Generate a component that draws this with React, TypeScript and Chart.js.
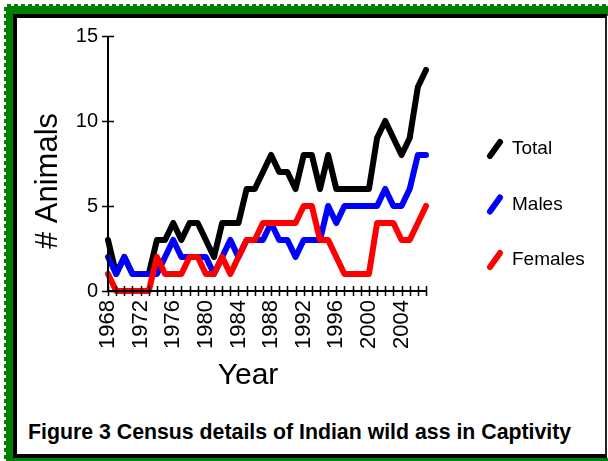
import React, { useEffect, useRef } from "react";
import { Chart, registerables } from "chart.js";

Chart.register(...registerables);

const YEARS = [
  1968, 1969, 1970, 1971, 1972, 1973, 1974, 1975, 1976, 1977,
  1978, 1979, 1980, 1981, 1982, 1983, 1984, 1985, 1986, 1987,
  1988, 1989, 1990, 1991, 1992, 1993, 1994, 1995, 1996, 1997,
  1998, 1999, 2000, 2001, 2002, 2003, 2004, 2005, 2006, 2007,
];
const TOTAL = [
  3, 1, 2, 1, 1, 1, 3, 3, 4, 3,
  4, 4, 3, 2, 4, 4, 4, 6, 6, 7,
  8, 7, 7, 6, 8, 8, 6, 8, 6, 6,
  6, 6, 6, 9, 10, 9, 8, 9, 12, 13,
];
const MALES = [
  2, 1, 2, 1, 1, 1, 1, 2, 3, 2,
  2, 2, 2, 1, 2, 3, 2, 3, 3, 3,
  4, 3, 3, 2, 3, 3, 3, 5, 4, 5,
  5, 5, 5, 5, 6, 5, 5, 6, 8, 8,
];
const FEMALES = [
  1, 0, 0, 0, 0, 0, 2, 1, 1, 1,
  2, 2, 1, 1, 2, 1, 2, 3, 3, 4,
  4, 4, 4, 4, 5, 5, 3, 3, 2, 1,
  1, 1, 1, 4, 4, 4, 3, 3, 4, 5,
];
const SERIES_NAMES = ["Total", "Males", "Females"];
const SERIES_COLORS = ["#000000", "#0000ff", "#ff0000"];
const X_LABEL_YEARS = [1968, 1972, 1976, 1980, 1984, 1988, 1992, 1996, 2000, 2004];
const Y_TICKS = [0, 5, 10, 15];
const X_TITLE = "Year";
const Y_TITLE = "# Animals";
const CAPTION = "Figure 3 Census details of Indian wild ass in Captivity";

const FONT = "'Liberation Sans', Arial, sans-serif";

const customPlugin = {
  id: "customAxesLegend",
  afterDatasetsDraw(chart: any) {
    const { ctx, scales } = chart;
    const x = scales.x;
    const y = scales.y;
    const x0 = x.getPixelForValue(YEARS[0]);
    const x1 = x.getPixelForValue(YEARS[YEARS.length - 1]);
    const y0 = y.getPixelForValue(Y_TICKS[0]);
    const y1 = y.getPixelForValue(Y_TICKS[Y_TICKS.length - 1]);
    ctx.save();
    ctx.strokeStyle = "#000";
    ctx.lineWidth = 2;
    ctx.beginPath();
    ctx.moveTo(x0, y0);
    ctx.lineTo(x1, y0);
    ctx.moveTo(x0, y0);
    ctx.lineTo(x0, y1);
    ctx.stroke();
    ctx.lineWidth = 1.5;
    ctx.beginPath();
    for (const yr of YEARS) {
      const px = Math.round(x.getPixelForValue(yr)) + 0.5;
      ctx.moveTo(px, y0 - 5);
      ctx.lineTo(px, y0 + 5);
    }
    for (const v of Y_TICKS) {
      const py = Math.round(y.getPixelForValue(v)) + 0.5;
      ctx.moveTo(x0 - 6, py);
      ctx.lineTo(x0 + 6, py);
    }
    ctx.stroke();
    ctx.restore();
  },
  afterDraw(chart: any) {
    const { ctx, chartArea } = chart;
    ctx.save();
    // legend
    ctx.font = `19px ${FONT}`;
    ctx.textBaseline = "middle";
    ctx.textAlign = "left";
    SERIES_NAMES.forEach((name, i) => {
      const cy = chartArea.top + 113 + i * 55.5;
      const gx = chartArea.right + 64;
      ctx.strokeStyle = SERIES_COLORS[i];
      ctx.lineWidth = 6;
      ctx.lineCap = "round";
      ctx.beginPath();
      ctx.moveTo(gx, cy + 7);
      ctx.lineTo(gx + 10, cy - 7);
      ctx.stroke();
      ctx.fillStyle = "#000";
      ctx.fillText(name, chartArea.right + 86, cy);
    });
    // x title
    ctx.font = `30px ${FONT}`;
    ctx.textAlign = "center";
    ctx.fillText(X_TITLE, chartArea.left + 140, chartArea.bottom + 85);
    // y title
    ctx.font = `31px ${FONT}`;
    ctx.translate(31, chartArea.top + 145);
    ctx.rotate(-Math.PI / 2);
    ctx.fillText(Y_TITLE, 0, 0);
    ctx.restore();
  },
};

export default function App() {
  const ref = useRef<HTMLCanvasElement | null>(null);

  useEffect(() => {
    if (!ref.current) return;
    const makeDs = (i: number, vals: number[], order: number) => ({
      label: SERIES_NAMES[i],
      data: YEARS.map((yr, k) => ({ x: yr, y: vals[k] })),
      borderColor: SERIES_COLORS[i],
      backgroundColor: SERIES_COLORS[i],
      borderWidth: 6,
      pointRadius: 0,
      tension: 0,
      borderJoinStyle: "round" as const,
      borderCapStyle: "round" as const,
      clip: false as any,
      order,
    });
    const chart = new Chart(ref.current, {
      type: "line",
      data: {
        datasets: [makeDs(0, TOTAL, 3), makeDs(1, MALES, 2), makeDs(2, FEMALES, 1)],
      },
      options: {
        animation: false,
        responsive: false,
        layout: { padding: { left: 0, top: 18, right: 177, bottom: 0 } },
        plugins: { legend: { display: false }, tooltip: { enabled: false } },
        scales: {
          x: {
            type: "linear",
            min: YEARS[0],
            max: YEARS[YEARS.length - 1],
            grid: { display: false, drawTicks: false },
            border: { display: false },
            afterFit: (s: any) => {
              s.height = 109;
              s.paddingLeft = 0;
              s.paddingRight = 0;
            },
            ticks: {
              stepSize: 1,
              autoSkip: false,
              minRotation: 90,
              maxRotation: 90,
              padding: 9,
              color: "#000",
              font: { family: FONT, size: 22 },
              callback: (v: any) => (X_LABEL_YEARS.includes(Number(v)) ? String(v) : ""),
            },
          },
          y: {
            min: Y_TICKS[0],
            max: Y_TICKS[Y_TICKS.length - 1],
            grid: { display: false, drawTicks: false },
            border: { display: false },
            afterFit: (s: any) => {
              s.width = 91;
              s.paddingTop = 0;
              s.paddingBottom = 0;
            },
            ticks: {
              stepSize: 5,
              padding: 10,
              color: "#000",
              font: { family: FONT, size: 20 },
            },
          },
        },
      },
      plugins: [customPlugin],
    });
    return () => chart.destroy();
  }, []);

  const green = "#008000";
  return (
    <div style={{ position: "fixed", left: 0, top: 0, width: 608, height: 461, background: "#fff", overflow: "hidden" }}>
      {/* green stamp edges */}
      <div style={{ position: "absolute", left: 7, top: 6, width: 601, height: 10, background: green }} />
      <div
        style={{
          position: "absolute",
          left: 7,
          top: 4,
          width: 601,
          height: 2,
          background: `repeating-linear-gradient(90deg, ${green} 0 4px, transparent 4px 7px)`,
        }}
      />
      <div style={{ position: "absolute", left: 6, top: 7, width: 10, height: 454, background: green }} />
      <div
        style={{
          position: "absolute",
          left: 4,
          top: 7,
          width: 2,
          height: 454,
          background: `repeating-linear-gradient(180deg, ${green} 0 4px, transparent 4px 7px)`,
        }}
      />
      <div style={{ position: "absolute", left: 13, top: 458, width: 595, height: 3, background: green }} />
      {/* black frame */}
      <div
        style={{
          position: "absolute",
          left: 13,
          top: 14,
          width: 588,
          height: 436,
          borderLeft: "4px solid #000",
          borderTop: "4px solid #000",
          borderBottom: "4px solid #000",
          borderRight: "2px solid #222",
          background: "#fff",
        }}
      />
      <canvas
        ref={ref}
        width={586}
        height={382}
        style={{ position: "absolute", left: 17, top: 18, width: 586, height: 382 }}
      />
      <div
        style={{
          position: "absolute",
          left: 28,
          top: 420,
          font: `bold 21.3px ${FONT}`,
          color: "#000",
          whiteSpace: "nowrap",
        }}
      >
        {CAPTION}
      </div>
    </div>
  );
}
